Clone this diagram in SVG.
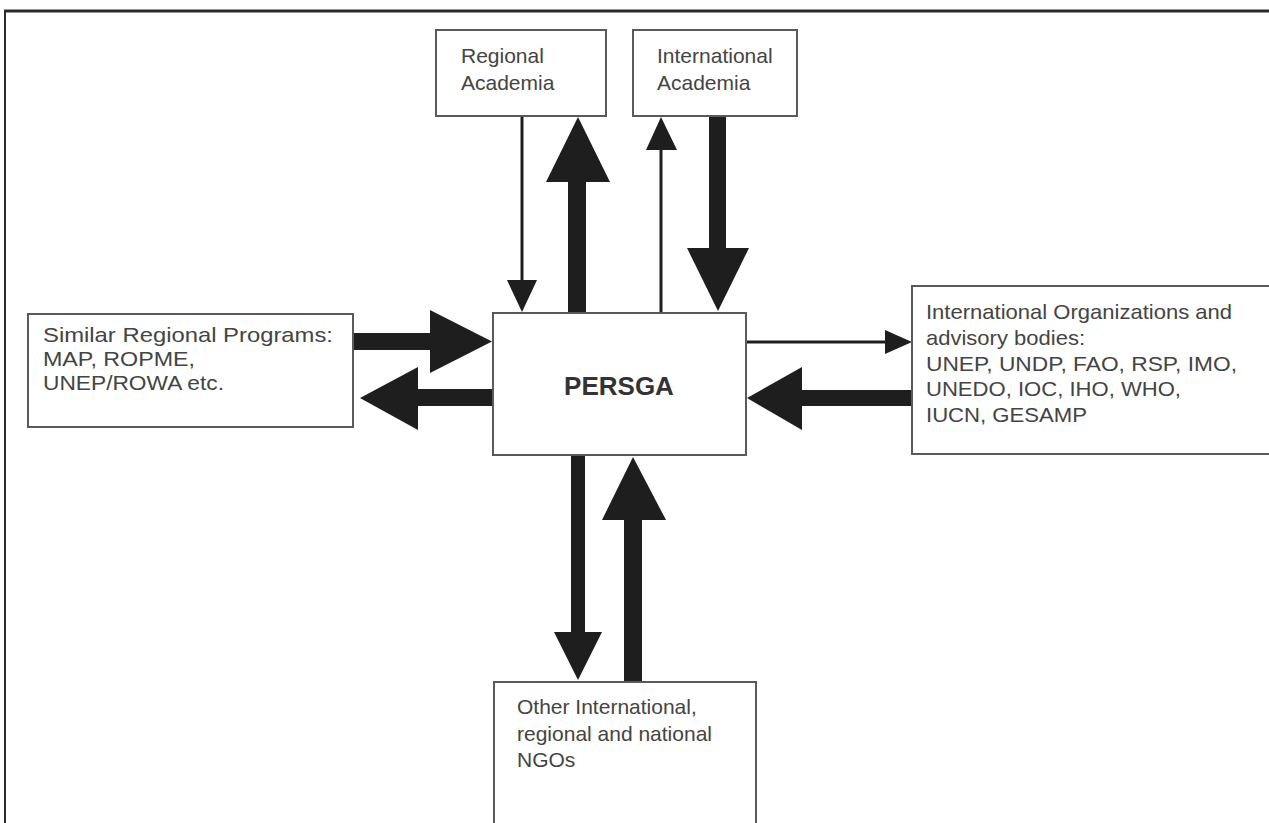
<svg xmlns="http://www.w3.org/2000/svg" width="1269" height="823" viewBox="0 0 1269 823">
<style>
.box{fill:#ffffff;stroke:#5a5a5a;stroke-width:2}
.frame{stroke:#2a2a2a;fill:none}
.t{font-family:"Liberation Sans",Arial,Helvetica,sans-serif;font-size:21px;fill:#444444}
.title{font-family:"Liberation Sans",Arial,Helvetica,sans-serif;font-size:26px;font-weight:bold;fill:#333333}
.ar{fill:#1e1e1e}
.ln{stroke:#1e1e1e;stroke-width:3;fill:none}
</style>
<rect x="0" y="0" width="1269" height="823" fill="#ffffff"/>
<g id="frame">
<line class="frame" x1="4" y1="11" x2="1269" y2="11" stroke-width="3"/>
<line class="frame" x1="5" y1="10" x2="5" y2="823" stroke-width="2"/>
</g>
<g id="connectors">
<!-- Regional Academia -> PERSGA (thin down) -->
<line class="ln" x1="522" y1="116" x2="522" y2="284"/>
<polygon class="ar" points="507,280 537,280 522,312"/>
<!-- PERSGA -> Regional Academia (thick up) -->
<rect class="ar" x="568" y="180" width="18" height="133"/>
<polygon class="ar" points="546,182 610,182 578,117"/>
<!-- PERSGA -> International Academia (thin up) -->
<line class="ln" x1="661" y1="313" x2="661" y2="146"/>
<polygon class="ar" points="646,150 677,150 661,117"/>
<!-- International Academia -> PERSGA (thick down) -->
<rect class="ar" x="709" y="116" width="17" height="134"/>
<polygon class="ar" points="687,248 749,248 718,311"/>
<!-- Similar Regional Programs -> PERSGA (thick right) -->
<rect class="ar" x="353" y="333" width="79" height="17"/>
<polygon class="ar" points="430,310 430,373 492,341.5"/>
<!-- PERSGA -> Similar Regional Programs (thick left) -->
<rect class="ar" x="416" y="389" width="77" height="17"/>
<polygon class="ar" points="418,367 418,430 360,398"/>
<!-- PERSGA -> International Organizations (thin right) -->
<line class="ln" x1="746" y1="342" x2="888" y2="342"/>
<polygon class="ar" points="885,330 885,354 912,342"/>
<!-- International Organizations -> PERSGA (thick left) -->
<rect class="ar" x="800" y="390" width="112" height="16"/>
<polygon class="ar" points="802,367 802,430 747,398"/>
<!-- PERSGA -> NGOs (thick down) -->
<rect class="ar" x="571" y="455" width="14" height="179"/>
<polygon class="ar" points="554,632 602,632 578,680"/>
<!-- NGOs -> PERSGA (thick up) -->
<rect class="ar" x="624" y="518" width="18" height="164"/>
<polygon class="ar" points="602,520 666,520 633,457"/>
</g>
<g id="regional-academia">
<rect class="box" x="436" y="30" width="170" height="86"/>
<text class="t" x="461" y="63">Regional</text>
<text class="t" x="461" y="90">Academia</text>
</g>
<g id="international-academia">
<rect class="box" x="633" y="30" width="164" height="86"/>
<text class="t" x="657" y="63">International</text>
<text class="t" x="657" y="90">Academia</text>
</g>
<g id="persga">
<rect class="box" x="493" y="313" width="253" height="142"/>
<text class="title" x="619" y="395" text-anchor="middle">PERSGA</text>
</g>
<g id="similar-regional-programs">
<rect class="box" x="28" y="314" width="325" height="113"/>
<text class="t" x="43" y="342" textLength="290" lengthAdjust="spacingAndGlyphs">Similar Regional Programs:</text>
<text class="t" x="43" y="366" textLength="152" lengthAdjust="spacingAndGlyphs">MAP, ROPME,</text>
<text class="t" x="43" y="390" textLength="181" lengthAdjust="spacingAndGlyphs">UNEP/ROWA etc.</text>
</g>
<g id="international-organizations">
<rect class="box" x="912" y="286" width="364" height="168"/>
<text class="t" x="926" y="319" textLength="306" lengthAdjust="spacingAndGlyphs">International Organizations and</text>
<text class="t" x="926" y="345" textLength="159" lengthAdjust="spacingAndGlyphs">advisory bodies:</text>
<text class="t" x="926" y="371" textLength="311" lengthAdjust="spacingAndGlyphs">UNEP, UNDP, FAO, RSP, IMO,</text>
<text class="t" x="926" y="396" textLength="255" lengthAdjust="spacingAndGlyphs">UNEDO, IOC, IHO, WHO,</text>
<text class="t" x="926" y="422" textLength="161" lengthAdjust="spacingAndGlyphs">IUCN, GESAMP</text>
</g>
<g id="ngos">
<rect class="box" x="494" y="682" width="262" height="150"/>
<text class="t" x="517" y="714">Other International,</text>
<text class="t" x="517" y="741">regional and national</text>
<text class="t" x="517" y="767">NGOs</text>
</g>
</svg>
